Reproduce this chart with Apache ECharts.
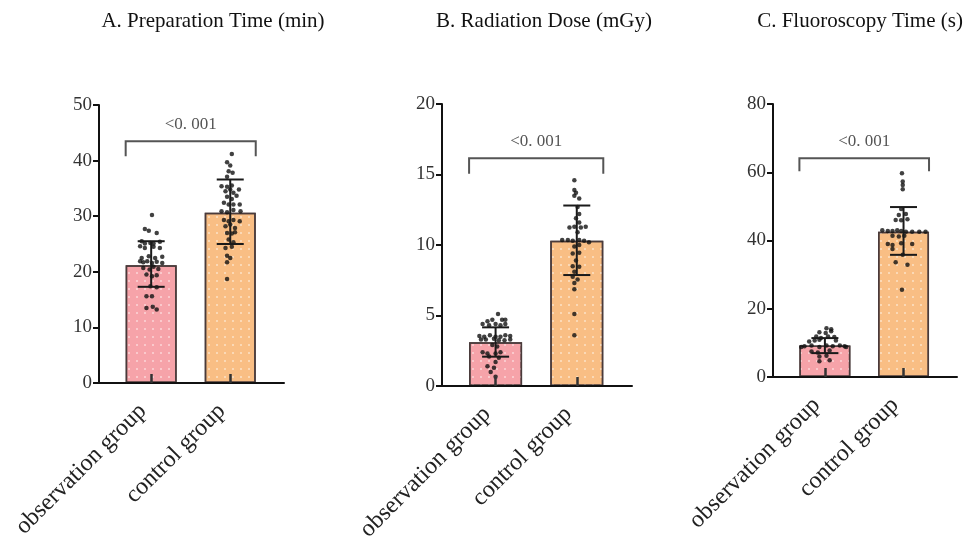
<!DOCTYPE html>
<html>
<head>
<meta charset="utf-8">
<script src="https://cdn.jsdelivr.net/npm/echarts@6/dist/echarts.min.js"></script>
<style>html,body{margin:0;padding:0;background:#fff}#c{width:970px;height:548px}</style>
</head>
<body>
<div id="c"></div>
<script>
// ---------------- DATA ----------------
const categories = ['observation group', 'control group'];
const panelTitles = ['A. Preparation Time (min)', 'B. Radiation Dose (mGy)', 'C. Fluoroscopy Time (s)'];
const yMaxes = [50, 20, 80];
const yIntervals = [10, 5, 20];
const pValueText = '<0. 001';

// Panel A: preparation time
const prepMean = [21.2, 30.6];
const prepErrLow = [17.3, 25.0];
const prepErrHigh = [25.5, 36.6];
// [horizontal jitter (category units), value]
const prepObsDots = [[0.01,30.2],[-0.08,27.7],[-0.03,27.4],[0.07,27.0],[-0.12,25.5],[-0.08,25.1],[-0.01,25.2],[0.03,25.1],[0.11,25.4],
  [-0.14,24.6],[-0.08,24.3],[0.03,24.5],[0.11,24.3],[-0.12,22.5],[-0.03,22.8],[0.05,22.5],[0.14,22.7],
  [-0.14,21.9],[-0.10,21.7],[-0.05,21.9],[0.01,21.6],[0.07,21.8],[0.14,21.6],[-0.10,20.7],[-0.02,20.4],[0.03,20.9],[0.09,20.5],
  [-0.06,19.5],[0.01,19.2],[0.07,19.4],[-0.01,17.4],[0.07,17.2],[-0.06,15.6],[0.01,15.6],[-0.06,13.5],[0.02,13.7],[0.07,13.2]];
const prepCtrlDots = [[0.02,41.2],[-0.04,39.7],[0.00,39.1],[-0.02,38.1],[0.03,37.8],[-0.04,37.1],[-0.11,35.4],[-0.04,35.3],[0.02,35.5],
  [-0.06,34.5],[0.00,34.8],[0.04,34.2],[0.11,34.8],[-0.04,33.5],[0.02,33.1],[0.08,33.7],[-0.08,32.4],[-0.02,32.1],[0.04,32.1],[0.12,32.1],
  [-0.11,30.9],[-0.04,30.7],[0.04,31.1],[0.13,30.9],[-0.08,29.3],[-0.02,29.1],[0.04,29.3],[0.12,29.1],[-0.06,28.2],[0.00,28.5],[0.06,27.9],
  [-0.04,27.0],[0.02,26.9],[0.06,27.1],[-0.02,25.8],[0.04,25.3],[-0.06,24.3],[0.02,24.5],[-0.04,22.9],[0.00,22.5],[-0.04,21.7],[-0.04,18.7]];

// Panel B: radiation dose
const doseMean = [3.1, 10.3];
const doseErrLow = [2.08, 7.87];
const doseErrHigh = [4.16, 12.8];
const doseObsDots = [[0.03,5.1],[-0.10,4.6],[-0.04,4.7],[0.08,4.7],[0.12,4.7],[-0.16,4.4],[-0.08,4.3],[0.00,4.4],[0.06,4.3],[0.12,4.4],
  [-0.20,3.55],[-0.14,3.5],[-0.07,3.6],[0.00,3.5],[0.06,3.5],[0.12,3.6],[0.18,3.55],[-0.18,3.3],[-0.12,3.3],[-0.02,3.35],[0.04,3.25],[0.11,3.25],[0.18,3.3],
  [-0.04,2.9],[0.02,2.8],[-0.16,2.4],[-0.10,2.3],[0.00,2.3],[0.06,2.4],[-0.08,2.1],[0.04,2.0],[0.00,1.7],[-0.10,1.4],[-0.02,1.3],[-0.06,1.0],[0.00,0.66]];
const doseCtrlDots = [[-0.03,14.6],[-0.03,13.9],[-0.01,13.7],[-0.03,13.5],[0.03,13.3],[0.01,12.7],[0.03,12.2],[-0.01,11.9],[0.03,11.6],
  [-0.09,11.25],[-0.03,11.3],[0.05,11.25],[0.11,11.3],[0.01,10.9],[-0.18,10.35],[-0.11,10.35],[-0.05,10.3],[0.03,10.35],[0.09,10.3],[0.15,10.2],
  [-0.03,9.9],[0.03,10.0],[-0.05,9.4],[0.03,9.45],[-0.01,8.9],[-0.05,8.5],[0.03,8.46],[-0.03,8.1],[-0.05,7.75],[0.01,7.55],[-0.03,7.3],[-0.03,6.86],[-0.03,5.1],[-0.03,3.6]];

// Panel C: fluoroscopy time
const fluoroMean = [9.2, 42.6];
const fluoroErrLow = [7.0, 35.8];
const fluoroErrHigh = [11.4, 49.8];
const fluoroObsDots = [[0.02,14.3],[0.08,14.0],[-0.07,13.1],[0.01,12.9],[0.08,13.4],[-0.11,11.9],[-0.05,11.4],[0.04,11.9],[0.12,11.7],
  [-0.20,10.4],[-0.13,10.7],[-0.07,10.9],[0.14,10.7],[-0.26,9.0],[-0.17,9.2],[-0.07,8.8],[0.02,9.2],[0.10,9.0],[0.19,9.2],[0.25,9.0],
  [-0.30,8.8],[0.27,8.8],[-0.17,7.5],[-0.09,7.2],[0.06,7.8],[-0.07,6.0],[0.02,6.2],[-0.07,4.6],[0.06,4.9]];
const fluoroCtrlDots = [[-0.02,59.7],[-0.01,57.3],[-0.01,56.3],[-0.01,55.0],[-0.03,49.2],[-0.06,47.5],[0.03,47.8],[-0.10,46.0],[-0.03,45.9],[0.05,46.2],
  [-0.27,43.0],[-0.20,42.8],[-0.14,42.8],[-0.08,43.0],[-0.03,42.8],[0.03,42.6],[0.11,42.6],[0.20,42.6],[0.28,42.6],
  [-0.14,41.4],[-0.06,41.2],[0.01,41.4],[-0.20,39.0],[-0.14,38.7],[-0.03,39.2],[0.11,39.0],[-0.14,37.5],[-0.01,35.8],[-0.10,33.6],[0.05,32.9],[-0.02,25.6]];

// significance bracket: [bracket level, leg end] per panel
const bracketLevels = [43.5, 16.15, 64.1];
const bracketLegEnds = [40.8, 15.05, 60.3];

// ---------------- LAYOUT / STYLE ----------------
const grids = [
  {left: 99, top: 105, width: 185, height: 278},
  {left: 442, top: 104, width: 190, height: 282},
  {left: 773, top: 104, width: 184, height: 273}
];
const titleCenters = [213, 544, 860];
const barWidths = [51, 53, 51];
const barColors = ['#F6A3A9', '#F9BE84'];
const serif = '"Liberation Serif", "Times New Roman", serif';

const panels = [
  {mean: prepMean, lo: prepErrLow, hi: prepErrHigh, obs: prepObsDots, ctrl: prepCtrlDots},
  {mean: doseMean, lo: doseErrLow, hi: doseErrHigh, obs: doseObsDots, ctrl: doseCtrlDots},
  {mean: fluoroMean, lo: fluoroErrLow, hi: fluoroErrHigh, obs: fluoroObsDots, ctrl: fluoroCtrlDots}
];

const xAxes = [], yAxes = [], series = [], graphics = [];
panels.forEach((p, i) => {
  xAxes.push({
    gridIndex: i, type: 'value', min: -0.66, max: 1.68, z: 6,
    splitLine: {show: false},
    axisLine: {show: true, onZero: false, lineStyle: {color: '#111', width: 2}},
    axisTick: {show: true, inside: true, length: 9, customValues: [0, 1], lineStyle: {color: '#333', width: 2.5}},
    axisLabel: {
      customValues: [0, 1], rotate: 45, margin: 33, verticalAlign: 'bottom', align: 'right',
      formatter: v => categories[Math.round(v)] || '',
      fontFamily: serif, fontSize: 24, color: '#222'
    }
  });
  yAxes.push({
    gridIndex: i, type: 'value', min: 0, max: yMaxes[i], interval: yIntervals[i], z: 6,
    splitLine: {show: false},
    axisLine: {show: true, onZero: false, lineStyle: {color: '#111', width: 2}},
    axisTick: {show: true, length: 6, lineStyle: {color: '#111', width: 2}},
    axisLabel: {fontFamily: serif, fontSize: 19, color: '#333', margin: 7}
  });
  // bars
  series.push({
    type: 'bar', xAxisIndex: i, yAxisIndex: i, barWidth: barWidths[i], z: 1,
    data: p.mean.map((m, k) => ({
      value: [k, m],
      itemStyle: {
        color: barColors[k], borderColor: '#4a3b3b', borderWidth: 1.5,
        decal: {symbol: 'circle', symbolSize: 1, dashArrayX: [2, 6], dashArrayY: [2, 6], color: 'rgba(255,255,255,0.55)'}
      }
    })),
    silent: true
  });
  // dots
  series.push({
    type: 'scatter', xAxisIndex: i, yAxisIndex: i, z: 3, symbolSize: 4.5,
    itemStyle: {color: '#111'},
    data: p.obs.map(d => [0 + d[0], d[1]]).concat(p.ctrl.map(d => [1 + d[0], d[1]])),
    silent: true
  });
  // error bars
  series.push({
    type: 'custom', xAxisIndex: i, yAxisIndex: i, z: 4,
    data: p.mean.map((m, k) => [k, p.lo[k], p.hi[k]]),
    renderItem: (params, api) => {
      const lo = api.coord([api.value(0), api.value(1)]);
      const hi = api.coord([api.value(0), api.value(2)]);
      const cap = 13.5;
      const st = {stroke: '#1a1a1a', lineWidth: 2};
      return {type: 'group', children: [
        {type: 'line', shape: {x1: lo[0], y1: lo[1], x2: hi[0], y2: hi[1]}, style: st},
        {type: 'line', shape: {x1: lo[0] - cap, y1: lo[1], x2: lo[0] + cap, y2: lo[1]}, style: st},
        {type: 'line', shape: {x1: hi[0] - cap, y1: hi[1], x2: hi[0] + cap, y2: hi[1]}, style: st}
      ]};
    },
    silent: true
  });
  // significance bracket
  const bw = barWidths[i];
  series.push({
    type: 'custom', xAxisIndex: i, yAxisIndex: i, z: 5,
    data: [[0, 1, bracketLevels[i], bracketLegEnds[i]]],
    renderItem: (params, api) => {
      const a = api.coord([api.value(0), api.value(2)]);
      const b = api.coord([api.value(1), api.value(2)]);
      const legY = api.coord([api.value(0), api.value(3)])[1];
      const x1 = a[0] - bw / 2, x2 = b[0] + bw / 2, y = a[1];
      return {type: 'group', children: [
        {type: 'polyline', shape: {points: [[x1, legY], [x1, y], [x2, y], [x2, legY]]},
          style: {stroke: '#555', lineWidth: 2, fill: null}},
        {type: 'text', x: (x1 + x2) / 2, y: y - 17,
          style: {text: pValueText, textAlign: 'center', textVerticalAlign: 'middle',
            font: '17px ' + serif, fill: '#555'}}
      ]};
    },
    silent: true
  });
  graphics.push({
    type: 'text', x: titleCenters[i], y: 21,
    style: {text: panelTitles[i], textAlign: 'center', textVerticalAlign: 'middle', font: '21px ' + serif, fill: '#111'}
  });
});

const chart = echarts.init(document.getElementById('c'));
chart.setOption({
  backgroundColor: '#fff',
  animation: false,
  grid: grids,
  xAxis: xAxes,
  yAxis: yAxes,
  series: series,
  graphic: graphics
});
</script>
</body>
</html>
